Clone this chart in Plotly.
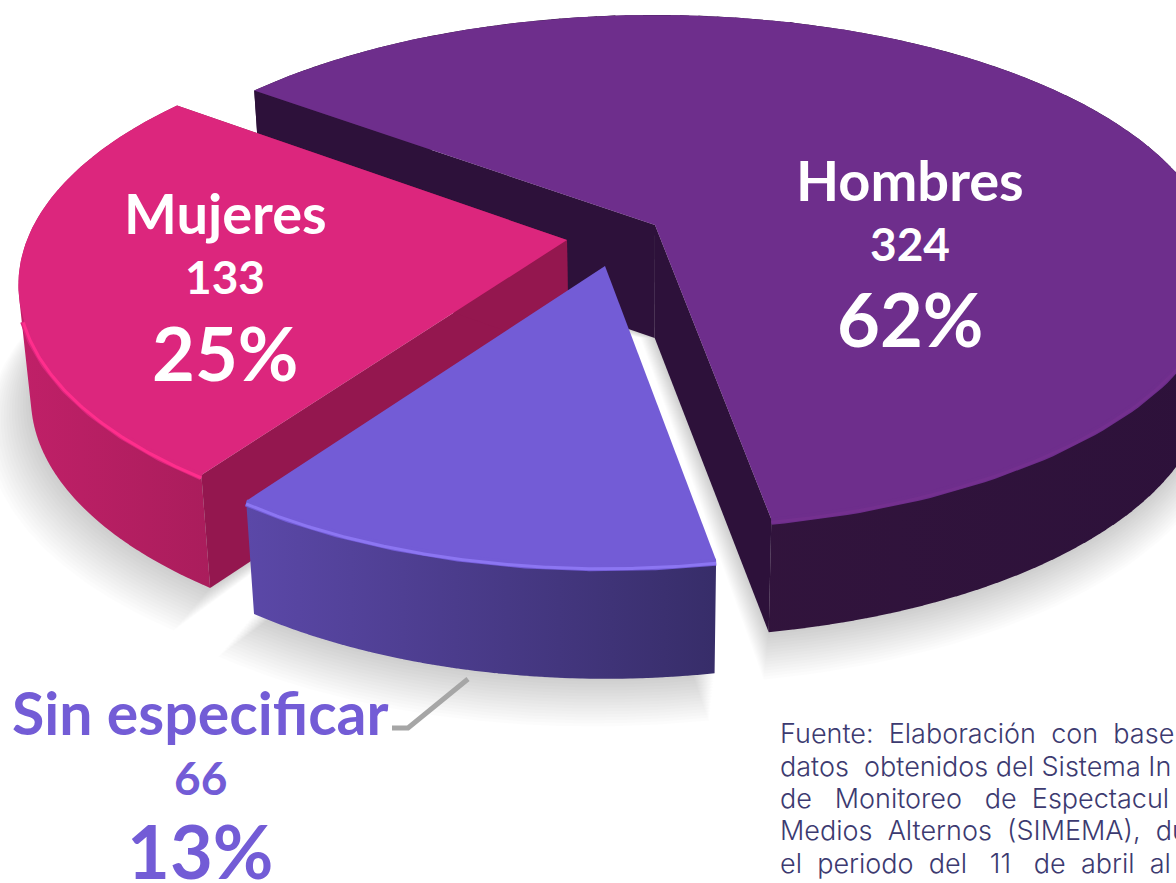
import numpy as np
import plotly.graph_objects as go

categories = ["Hombres", "Sin especificar", "Mujeres"]
values = [324, 66, 133]
NB = "\u00a0"
source_lines = [
    f"Fuente:{NB} Elaboración{NB} con{NB} base",
    f"datos{NB} obtenidos del Sistema In",
    f"de{NB}{NB} Monitoreo{NB}{NB} de{NB} Espectacul",
    f"Medios{NB} Alternos{NB} (SIMEMA),{NB} du",
    f"el{NB} periodo{NB} del{NB}{NB} 11{NB}{NB} de{NB} abril{NB} al",
]

# presentation of the tilted, exploded pie
W, H = 1176, 883
START = 307.0
RY, P = 247.0, 0.176
DEPTH, VPX, SHRINK = 113.0, 640.0, 0.98
apex = {"Hombres": (655, 225), "Sin especificar": (605, 266), "Mujeres": (567, 240)}
radius = {"Hombres": 555.0, "Sin especificar": 530.0, "Mujeres": 540.0}
draw_order = ["Hombres", "Mujeres", "Sin especificar"]
top_col = {"Hombres": "#6E2E8C", "Sin especificar": "#735CD6", "Mujeres": "#DC267D"}
inner_col = {"Hombres": "#2D113A", "Mujeres": "#94174F"}
wall_col = {"Hombres": ("#36173F", "#2D113A"), "Sin especificar": ("#5B48A8", "#372D69"),
            "Mujeres": ("#C02068", "#AA1D5C")}
rim_col = {"Hombres": "#74308F", "Sin especificar": "#8C76F2", "Mujeres": "#FF2E8C"}


def project(c, theta, rad=1.0):
    a = apex[c]
    u, v = np.sin(np.radians(theta)) * rad, -np.cos(np.radians(theta)) * rad
    s = 1 / (1 - P * v)
    return a[0] + radius[c] * u * s, a[1] + RY * v * s


def lower(x, y):
    return VPX + (np.asarray(x) - VPX) * SHRINK, np.asarray(y) + DEPTH


def poly(x, y, color):
    return go.Scatter(x=list(x), y=list(y), mode="lines", fill="toself", fillcolor=color,
                      line=dict(width=0), hoverinfo="skip", showlegend=False)


def stroke(x, y, color, width):
    return go.Scatter(x=list(x), y=list(y), mode="lines", hoverinfo="skip", showlegend=False,
                      line=dict(color=color, width=width))


fig = go.Figure()
total = sum(values)
spans, cur = {}, START
for c, v in zip(categories, values):
    spans[c] = (cur, cur + 360 * v / total)
    cur = spans[c][1]

# soft ground shadow
for k in range(1, 17):
    for c in categories:
        a = apex[c]
        t = np.linspace(*spans[c], 120)
        x, y = project(c, t, 1 + 0.0035 * k)
        bx, by = lower(x, y)
        bx, by = bx - 0.8 * k, by + 1.7 * k
        ax, ay = lower(a[0], a[1])
        fig.add_trace(poly(np.r_[ax - 0.9 * k, bx], np.r_[ay, by], "rgba(0,0,0,0.013)"))

for c in draw_order:
    a = apex[c]
    t = np.linspace(*spans[c], 200)
    x, y = project(c, t)
    bx, by = lower(x, y)
    ax, ay = lower(a[0], a[1])
    # outer wall, built from overlapping quads wound the same way
    qx, qy = [], []
    for i in range(0, len(t) - 3, 2):
        px = [x[i], x[i + 3], bx[i + 3], bx[i]]
        py = [y[i], y[i + 3], by[i + 3], by[i]]
        area = sum(px[j] * py[(j + 1) % 4] - px[(j + 1) % 4] * py[j] for j in range(4))
        if area < 0:
            px, py = px[::-1], py[::-1]
        qx += px + [px[0], None]
        qy += py + [py[0], None]
    fig.add_trace(go.Scatter(
        x=qx, y=qy, mode="lines", fill="toself",
        fillgradient=dict(type="horizontal",
                          colorscale=[[0, wall_col[c][0]], [1, wall_col[c][1]]]),
        line=dict(width=0), hoverinfo="skip", showlegend=False))
    # the cut faces that can be seen
    if c in inner_col:
        for i in (0, -1):
            fig.add_trace(poly([x[i], a[0], ax, bx[i]], [y[i], a[1], ay, by[i]], inner_col[c]))
    # top face
    fig.add_trace(poly(np.r_[a[0], x], np.r_[a[1], y], top_col[c]))
    # bevel and bright rim on the side facing the viewer
    near = -np.cos(np.radians(t)) > 0.3
    fig.add_trace(stroke(x[near], y[near] + 2, top_col[c], 7))
    fig.add_trace(stroke(x[near], y[near] + 3, rim_col[c], 3))

# leader line for the outside label
fig.add_trace(stroke([392, 408, 468], [728, 728, 679], "#A6A6A6", 5))

FONT = "Lato"
labels = {
    "Hombres": (910, 179, 243, 318, "#FFFFFF", 56),
    "Mujeres": (225, 212, 276, 352, "#FFFFFF", 56),
    "Sin especificar": (200, 712, 777, 850, "#735CD6", 59),
}
ann = []
for c, v in zip(categories, values):
    x0, y1, y2, y3, col, name_size = labels[c]
    for txt, y, size in ((c, y1, name_size), (str(v), y2, 46), (f"{round(100 * v / total)}%", y3, 74)):
        ann.append(dict(x=x0, y=y, text=f"<b>{txt}</b>", showarrow=False, xanchor="center",
                        yanchor="middle", font=dict(family=FONT, size=size, color=col)))
for line, y in zip(source_lines, [733, 766, 798, 830, 863]):
    ann.append(dict(x=778, y=y, text=line, showarrow=False, xanchor="left", yanchor="middle",
                    font=dict(family="Inter", size=27, weight=300, color="#3C3A70")))

fig.update_layout(
    width=W, height=H, margin=dict(l=0, r=0, t=0, b=0), paper_bgcolor="white",
    plot_bgcolor="white", showlegend=False, annotations=ann,
    xaxis=dict(visible=False, range=[0, W], fixedrange=True),
    yaxis=dict(visible=False, range=[H, 0], fixedrange=True),
)
fig.write_html("out.html", config=dict(displayModeBar=False),
               post_script="document.body.style.margin='0';")
